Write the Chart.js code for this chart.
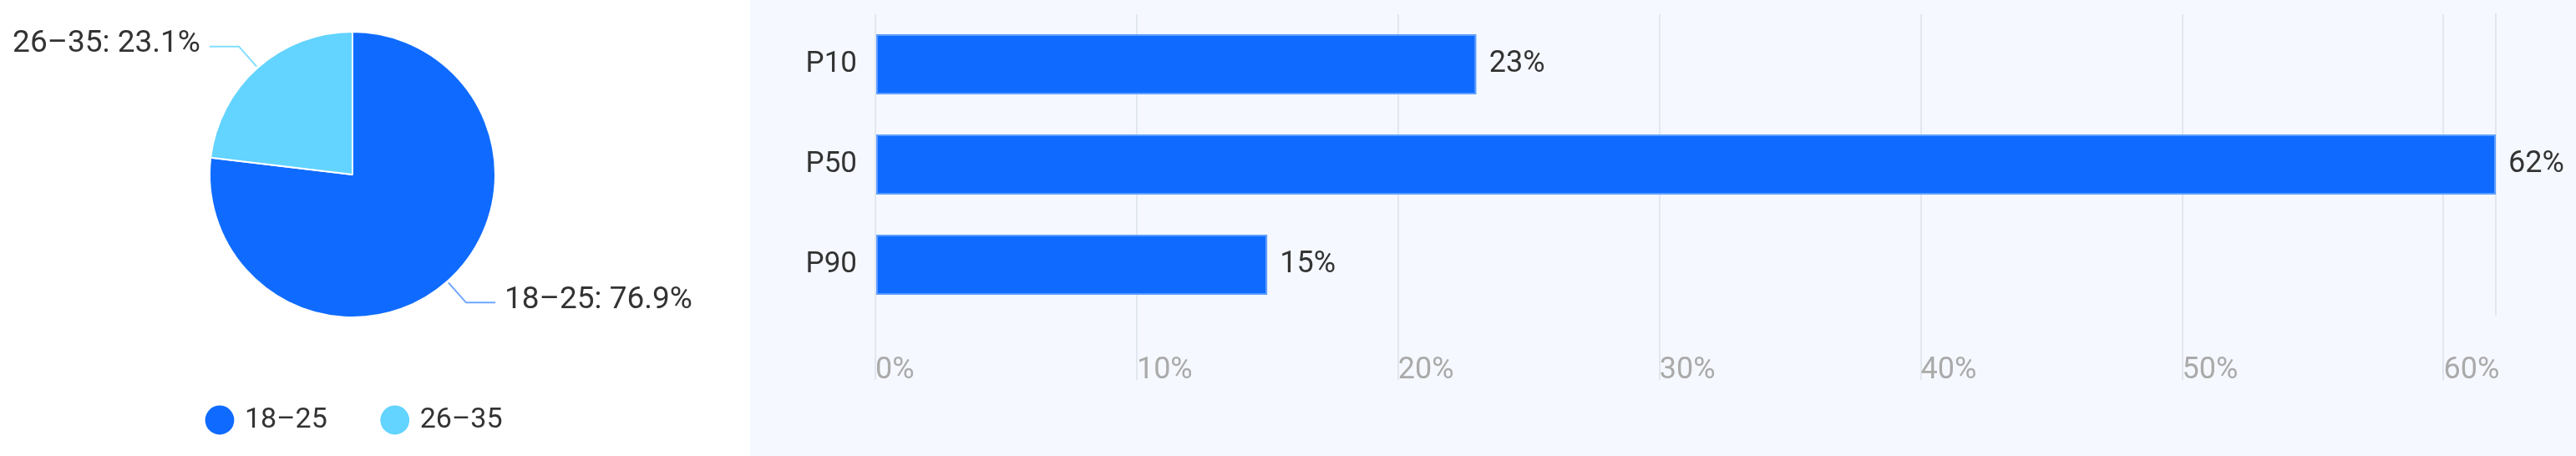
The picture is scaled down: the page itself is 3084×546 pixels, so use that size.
<!DOCTYPE html>
<html>
<head>
  <title>Age groups and percentiles</title>
  <script src="https://cdn.jsdelivr.net/npm/chart.js"></script>
  <style>
    body { margin: 0; background: #fff; width: 3084px; height: 546px; position: relative; overflow: hidden; }
    #pieBox { position: absolute; left: 0; top: 0; width: 898px; height: 546px; }
    #barBox { position: absolute; left: 898px; top: 0; width: 2186px; height: 546px; background: #f5f8fe; }
  </style>
</head>
<body>
  <div id="pieBox"><canvas id="ageChart" width="898" height="546"></canvas></div>
  <div id="barBox"><canvas id="pctChart" width="2186" height="546"></canvas></div>

  <script>
    const ageGroups = ['18–25', '26–35'];
    const ageShares = [76.9, 23.1];

    const percentiles = ['P10', 'P50', 'P90'];
    const percentileValues = [23, 62, 15];
    const xTicks = [0, 10, 20, 30, 40, 50, 60];
    const xMax = 62;

    const blue = '#0f6bff';
    const cyan = '#62d4ff';
    const gridColor = '#e2e7ef';

    Chart.defaults.font.family = 'Roboto, "Noto Sans", sans-serif';
    Chart.defaults.font.size = 36;
    Chart.defaults.color = '#333';

    // leader lines + "label: x%" outside the pie
    const pieLabels = {
      id: 'pieLabels',
      afterDatasetsDraw(chart) {
        const ctx = chart.ctx;
        const meta = chart.getDatasetMeta(0);
        meta.data.forEach((arc, i) => {
          const a = (arc.startAngle + arc.endAngle) / 2;
          const r = arc.outerRadius;
          const cos = Math.cos(a), sin = Math.sin(a);
          const side = cos >= 0 ? 1 : -1;
          const x0 = arc.x + (r + 2) * cos, y0 = arc.y + (r + 2) * sin;
          const x1 = arc.x + (r + 34) * cos, y1 = arc.y + (r + 34) * sin;
          const x2 = x1 + side * 35;
          ctx.save();
          ctx.strokeStyle = i === 0 ? 'rgba(15,107,255,0.6)' : 'rgba(98,212,255,0.8)';
          ctx.lineWidth = 2;
          ctx.beginPath();
          ctx.moveTo(x0, y0);
          ctx.lineTo(x1, y1);
          ctx.lineTo(x2, y1);
          ctx.stroke();
          ctx.fillStyle = '#333';
          ctx.font = '37px Roboto, "Noto Sans", sans-serif';
          ctx.textAlign = side > 0 ? 'left' : 'right';
          ctx.textBaseline = 'middle';
          ctx.fillText(ageGroups[i] + ': ' + ageShares[i].toFixed(1) + '%', x2 + side * 11, y1 - 3);
          ctx.restore();
        });
      }
    };

    new Chart(document.getElementById('ageChart'), {
      type: 'pie',
      data: {
        labels: ageGroups,
        datasets: [{
          data: ageShares,
          backgroundColor: [blue, cyan],
          borderColor: '#fff',
          borderWidth: 2,
          radius: 171
        }]
      },
      options: {
        responsive: false,
        devicePixelRatio: 1,
        animation: false,
        layout: { padding: { left: 182, right: 200, top: 0, bottom: 16 } },
        // empty right-hand box: keeps the pie centred at x 422 while the legend row stays wide
        scales: {
          gap: {
            type: 'linear',
            position: 'right',
            afterFit: axis => {
              axis.width = 36;
              axis.paddingTop = 0;
              axis.paddingBottom = 0;
            },
            grid: { display: false, drawTicks: false },
            border: { display: false },
            ticks: { display: false }
          }
        },
        plugins: {
          tooltip: { enabled: false },
          legend: {
            position: 'bottom',
            align: 'start',
            labels: {
              usePointStyle: true,
              pointStyle: 'circle',
              boxWidth: 26,
              boxHeight: 26,
              padding: 68,
              color: '#333',
              font: { size: 34 }
            }
          }
        }
      },
      plugins: [pieLabels]
    });

    // value text at the end of each bar
    const barValues = {
      id: 'barValues',
      afterDatasetsDraw(chart) {
        const ctx = chart.ctx;
        chart.getDatasetMeta(0).data.forEach((bar, i) => {
          ctx.save();
          ctx.fillStyle = '#333';
          ctx.font = '36px Roboto, "Noto Sans", sans-serif';
          ctx.textAlign = 'left';
          ctx.textBaseline = 'middle';
          ctx.fillText(percentileValues[i] + '%', bar.x + 15, bar.y);
          ctx.restore();
        });
      }
    };

    new Chart(document.getElementById('pctChart'), {
      type: 'bar',
      data: {
        labels: percentiles,
        datasets: [{
          data: percentileValues,
          backgroundColor: blue,
          borderColor: '#5d9dff',
          borderWidth: 2,
          borderSkipped: false,
          barPercentage: 0.6,
          categoryPercentage: 1
        }]
      },
      options: {
        indexAxis: 'y',
        responsive: false,
        devicePixelRatio: 1,
        animation: false,
        layout: { padding: { left: 0, right: 96, top: 17, bottom: 0 } },
        plugins: { legend: { display: false }, tooltip: { enabled: false } },
        scales: {
          x: {
            min: 0,
            max: xMax,
            afterBuildTicks: axis => { axis.ticks = xTicks.map(v => ({ value: v })); },
            afterFit: axis => {
              axis.height = 169;
              axis.paddingLeft = 0;
              axis.paddingRight = 0;
            },
            grid: { color: gridColor, lineWidth: 2, drawTicks: true, tickLength: 78, tickColor: gridColor, tickWidth: 2 },
            border: { display: false },
            ticks: {
              align: 'start',
              padding: -33,
              color: '#aaa',
              font: { size: 36 },
              callback: v => v + '%'
            }
          },
          y: {
            afterFit: axis => {
              axis.width = 150;
              axis.paddingTop = 0;
              axis.paddingBottom = 0;
            },
            grid: { display: false, drawTicks: false },
            border: { display: false },
            ticks: { padding: 22, color: '#333', font: { size: 35 } }
          },
          y2: {
            type: 'category',
            position: 'right',
            afterFit: axis => {
              axis.width = 0;
              axis.paddingTop = 0;
              axis.paddingBottom = 0;
            },
            grid: { display: false, drawTicks: false },
            border: { display: true, color: gridColor, width: 2 },
            ticks: { display: false }
          }
        }
      },
      plugins: [barValues]
    });
  </script>
</body>
</html>
